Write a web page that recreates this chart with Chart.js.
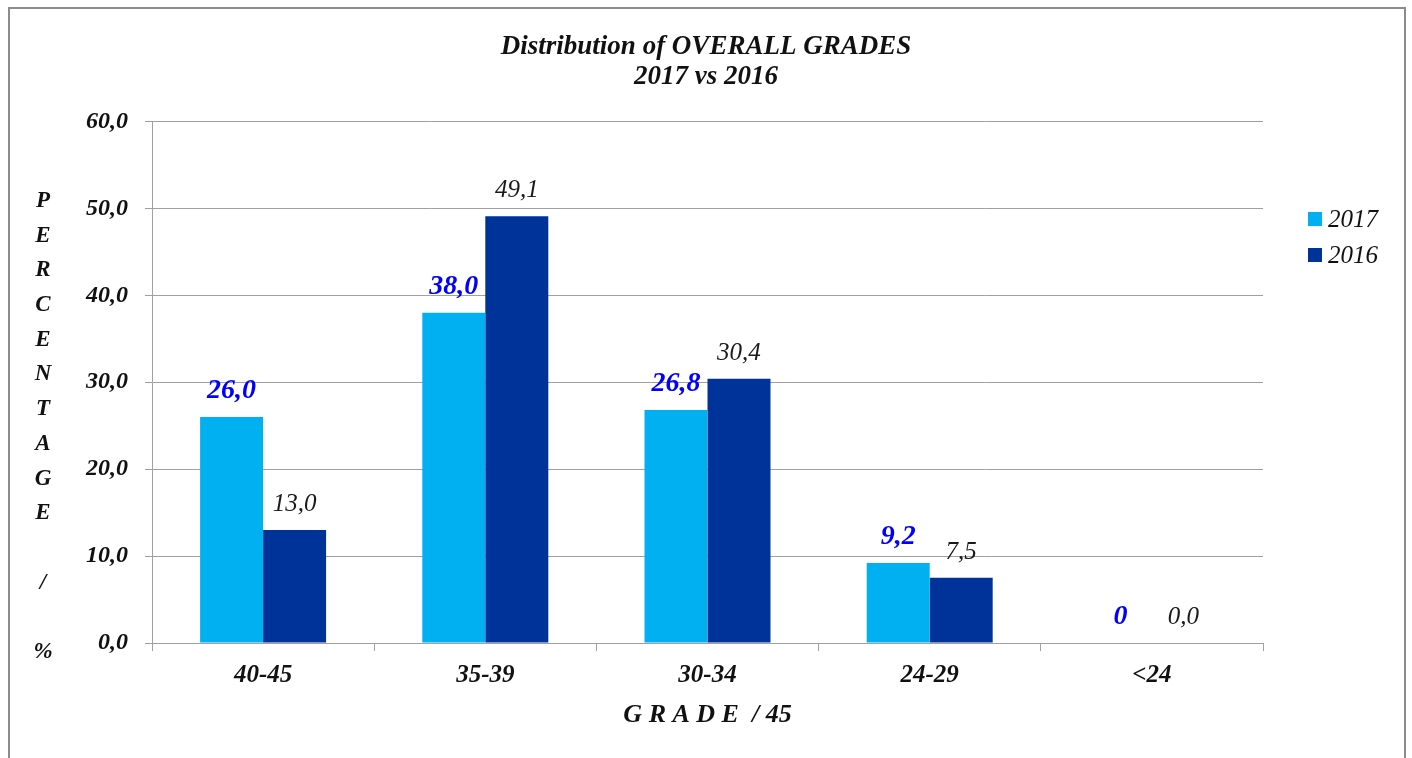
<!DOCTYPE html>
<html>
<head>
<meta charset="utf-8">
<script src="https://cdn.jsdelivr.net/npm/chart.js@4.4.1/dist/chart.umd.min.js"></script>
<style>
  html, body { margin: 0; padding: 0; background: #fff; }
</style>
</head>
<body>
<canvas id="myChart" width="1412" height="758"></canvas>
<script>
// data
const grades = ["40-45", "35-39", "30-34", "24-29", "<24"];
const pct2017 = [26.0, 38.0, 26.8, 9.2, 0];
const pct2016 = [13.0, 49.1, 30.4, 7.5, 0.0];
const seriesNames = ["2017", "2016"];
const yTitleLetters = ["P", "E", "R", "C", "E", "N", "T", "A", "G", "E", "", "/", "", "%"];

const SERIF = "'Liberation Serif', 'Times New Roman', serif";

function commaNum(v) {
  return v.toFixed(1).replace(".", ",");
}

// value labels above bars (2017 prints a bare 0 for zero)
const valueLabels = {
  id: "valueLabels",
  afterDatasetsDraw(chart) {
    const ctx = chart.ctx;
    chart.data.datasets.forEach((ds, i) => {
      const meta = chart.getDatasetMeta(i);
      meta.data.forEach((bar, j) => {
        const v = ds.data[j];
        ctx.save();
        if (i === 0) {
          ctx.font = "italic bold 28px " + SERIF;
          ctx.fillStyle = "#0000ff";
        } else {
          ctx.font = "italic 25px " + SERIF;
          ctx.fillStyle = "#1a1a1a";
        }
        ctx.textAlign = "center";
        ctx.textBaseline = "alphabetic";
        const txt = i === 0 && v === 0 ? "0" : commaNum(v);
        ctx.fillText(txt, bar.x, bar.y - 19);
        ctx.restore();
      });
    });
  },
};

// frame, stacked y title and legend at right
const decorations = {
  id: "decorations",
  afterDraw(chart) {
    const ctx = chart.ctx;
    ctx.save();
    ctx.strokeStyle = "#8c8c8c";
    ctx.lineWidth = 2;
    ctx.strokeRect(9, 8, 1396, 780);

    ctx.fillStyle = "#111";
    ctx.font = "italic bold 23px " + SERIF;
    ctx.textAlign = "center";
    ctx.textBaseline = "middle";
    yTitleLetters.forEach((ch, k) => {
      ctx.fillText(ch, 43, 201 + k * 34.7);
    });

    ctx.font = "italic 25px " + SERIF;
    ctx.textAlign = "left";
    chart.data.datasets.forEach((ds, i) => {
      const y = 219 + i * 36;
      ctx.fillStyle = ds.backgroundColor;
      ctx.fillRect(1308, y - 7, 14, 14);
      ctx.fillStyle = "#111";
      ctx.fillText(ds.label, 1328, y + 1);
    });
    ctx.restore();
  },
};

const canvasCtx = document.getElementById("myChart").getContext("2d");

const config = {
  type: "bar",
  data: {
    labels: grades,
    datasets: [
      { label: seriesNames[0], data: pct2017, backgroundColor: "#00b0f0" },
      { label: seriesNames[1], data: pct2016, backgroundColor: "#003399" },
    ],
  },
  options: {
    responsive: false,
    animation: false,
    layout: { padding: 0 },
    datasets: {
      bar: { categoryPercentage: 0.567, barPercentage: 1.0 },
    },
    plugins: {
      legend: { display: false },
      tooltip: { enabled: false },
      title: {
        display: true,
        text: ["Distribution of OVERALL GRADES", "2017 vs 2016"],
        color: "#111",
        font: { family: SERIF, size: 27, style: "italic", weight: "bold", lineHeight: 1.12 },
        padding: { top: 32, bottom: 29 },
      },
    },
    scales: {
      x: {
        afterFit: (scale) => { scale.height = 115; },
        grid: {
          display: true,
          drawOnChartArea: false,
          offset: true,
          tickLength: 8,
          color: "#a0a0a0",
        },
        border: { color: "#a0a0a0" },
        ticks: {
          color: "#111",
          padding: 10,
          font: { family: SERIF, size: 25, style: "italic", weight: "bold" },
        },
        title: {
          display: true,
          text: "G R A D E  / 45",
          color: "#111",
          font: { family: SERIF, size: 26, style: "italic", weight: "bold", lineHeight: 1.2 },
          padding: { top: 0, bottom: 27 },
        },
      },
      y: {
        min: 0,
        max: 60,
        afterFit: (scale) => { scale.width = 152; },
        grid: { color: "#a0a0a0", tickLength: 7 },
        border: { color: "#a0a0a0" },
        ticks: {
          stepSize: 10,
          padding: 17,
          color: "#111",
          font: { family: SERIF, size: 24, style: "italic", weight: "bold" },
          callback: (v) => commaNum(v),
        },
      },
      // empty right-hand box that keeps room for the legend
      side: {
        type: "linear",
        position: "right",
        display: true,
        afterFit: (scale) => { scale.width = 149; },
        grid: { display: false, drawTicks: false },
        border: { display: false },
        ticks: { display: false },
      },
    },
  },
  plugins: [valueLabels, decorations],
};

let myChart = new Chart(canvasCtx, config);
</script>
</body>
</html>
